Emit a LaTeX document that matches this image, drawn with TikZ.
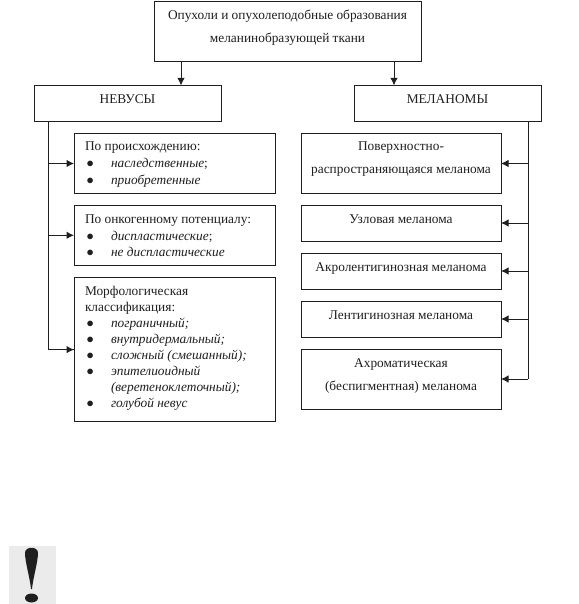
\documentclass[tikz,border=0pt]{standalone}
\usepackage{fontspec}
\setmainfont{Liberation Serif}
\usetikzlibrary{arrows.meta}
\definecolor{ink}{gray}{0.12}
\newcommand{\boxtxt}[4]{\parbox[c][#2pt][t]{#1pt}{\fontsize{13.35}{16}\selectfont\vspace*{#3pt}#4}}
\newcommand{\hd}[1]{\noindent\hspace*{11pt}\strut #1\par}
\newcommand{\bl}[1]{\noindent\hspace*{12.5pt}\makebox[24.5pt][l]{$\bullet$}\strut\textit{#1}\par}
\newcommand{\cn}[1]{\noindent\hspace*{37pt}\strut\textit{#1}\par}
\newcommand{\cl}[1]{\centering\strut #1\par}
\tikzset{
  x=1pt,y=-1pt,
  boxn/.style={draw=ink,line width=1pt,inner sep=0pt,outer sep=0pt,text=ink,fill=white},
  conn/.style={draw=ink,line width=1pt},
  arr/.style={conn,-{Latex[length=7.5pt,width=7.5pt]}}
}
\begin{document}
\begin{tikzpicture}
\useasboundingbox (0,0) rectangle (578,604);
% boxes
\node[boxn] (top) at (287.5,31.3) {\boxtxt{267}{60}{7}{\cl{\fontsize{13.35}{23}\selectfont Опухоли и опухолеподобные образования\\ меланинобразующей ткани}}};
\node[boxn] (nev) at (127.5,103.4) {\boxtxt{187}{36}{7}{\cl{НЕВУСЫ}}};
\node[boxn] (mel) at (447.5,103.4) {\boxtxt{187}{36}{7}{\cl{МЕЛАНОМЫ}}};
\node[boxn] (n1) at (174.5,163.5) {\boxtxt{201}{59}{5}{\fontsize{13.35}{16.7}\selectfont\hd{По происхождению:}\bl{наследственные\textup{;}}\bl{приобретенные}}};
\node[boxn] (n2) at (174.5,235.3) {\boxtxt{201}{60}{7}{\fontsize{13.35}{16.5}\selectfont\hd{По онкогенному потенциалу:}\bl{диспластические\textup{;}}\bl{не диспластические}}};
\node[boxn] (n3) at (174.5,349.6) {\boxtxt{201}{144.5}{7}{\hd{Морфологическая}\hd{классификация:}\bl{пограничный;}\bl{внутридермальный;}\bl{сложный (смешанный);}\bl{эпителиоидный}\cn{(веретеноклеточный);}\bl{голубой невус}}};
\node[boxn] (m1) at (401,163.5) {\boxtxt{200}{59}{5}{\cl{\fontsize{13.35}{23.5}\selectfont Поверхностно-\\ распространяющаяся меланома}}};
\node[boxn] (m2) at (401,223) {\boxtxt{200}{36}{7}{\cl{Узловая меланома}}};
\node[boxn] (m3) at (401,271) {\boxtxt{200}{36}{7}{\cl{Акролентигинозная меланома}}};
\node[boxn] (m4) at (401,319) {\boxtxt{200}{36}{7}{\cl{Лентигинозная меланома}}};
\node[boxn] (m5) at (401,379) {\boxtxt{200}{60}{7}{\cl{\fontsize{13.35}{23}\selectfont Ахроматическая\\ (беспигментная) меланома}}};
% top arrows
\draw[arr] ([xshift=27pt]top.south west) -- ([xshift=27pt]top.south west |- nev.north);
\draw[arr] ([xshift=-27pt]top.south east) -- ([xshift=-27pt]top.south east |- mel.north);
% trunks
\coordinate (ls) at ([xshift=14pt]nev.south west);
\coordinate (rs) at ([xshift=-13pt]mel.south east);
\draw[conn] (ls) -- (ls |- n3.west) -- (n3.west);
\draw[conn] (rs) -- (rs |- m5.east);
\foreach \b in {n1,n2,n3} \draw[arr] (ls |- \b.west) -- (\b.west);
\foreach \b in {m1,m2,m3,m4,m5} \draw[arr] (rs |- \b.east) -- (\b.east);
% exclamation sign
\fill[gray!16] (9,546) rectangle (56,604);
\fill[black!88] (25,553) .. controls (25,546) and (38,546) .. (38,553) .. controls (38,562) and (33,578) .. (32,589) -- (31,589) .. controls (30,578) and (25,562) .. (25,553) -- cycle;
\fill[black!88] (31.5,598) ellipse [x radius=6.5, y radius=4.5];
\end{tikzpicture}
\end{document}
